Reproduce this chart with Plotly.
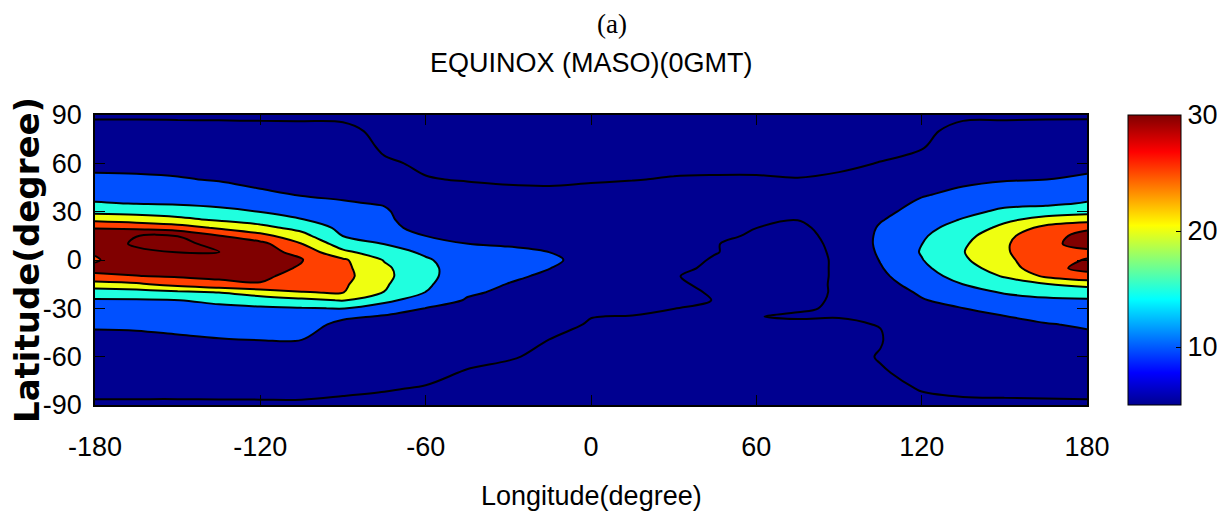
import numpy as np
import plotly.graph_objects as go

# ---------------- data ----------------
LON = [-180, -165, -150, -135, -120, -105, -90, -75, -60, -45, -30, -15, 0,
       15, 30, 45, 60, 75, 90, 105, 120, 135, 150, 165, 180]
LAT = [-90, -80, -70, -60, -50, -40, -35, -30, -25, -20, -15, -10, -5, 0,
       5, 10, 15, 20, 25, 30, 35, 40, 50, 60, 70, 80, 90]

# one latitude profile (south -> north) per longitude
Z_W180 = [4.6, 5.7, 6.8, 7.9, 9.1, 10.4, 11.9, 13.2, 14.5, 17.4, 22.9, 29.4, 30.9, 29.6, 30.4, 31.8, 31.0, 29.9, 23.8, 18.7, 15.4, 13.7, 10.8, 8.9, 7.4, 6.0, 4.6]
Z_W165 = [4.6, 5.7, 6.8, 8.0, 9.2, 10.5, 12.1, 13.3, 14.6, 18.0, 24.2, 29.9, 31.3, 32.6, 33.8, 35.8, 34.9, 28.8, 22.8, 18.2, 14.9, 13.5, 10.6, 8.9, 7.4, 6.0, 4.6]
Z_W150 = [4.6, 5.7, 6.9, 8.2, 9.4, 11.0, 12.5, 13.7, 14.9, 19.0, 26.8, 30.5, 32.0, 33.5, 35.1, 36.5, 34.9, 27.3, 21.3, 17.4, 14.6, 13.1, 10.3, 8.7, 7.3, 5.9, 4.6]
Z_W135 = [4.6, 5.75, 7.1, 8.4, 9.7, 11.8, 12.9, 14.1, 15.9, 20.2, 28.8, 30.9, 32.2, 33.6, 35.1, 33.4, 30.2, 24.3, 19.4, 16.2, 14.0, 12.5, 9.7, 8.4, 7.1, 5.8, 4.6]
Z_W120 = [4.6, 5.8, 7.2, 8.6, 9.95, 12.2, 13.3, 14.4, 17.2, 22.7, 29.6, 31.2, 32.3, 33.0, 32.3, 31.5, 26.6, 21.5, 17.9, 14.9, 13.1, 10.8, 8.9, 8.0, 6.9, 5.7, 4.6]
Z_W105 = [4.6, 5.8, 7.1, 8.5, 9.9, 12.3, 13.5, 14.7, 18.7, 24.9, 26.5, 27.9, 29.4, 30.3, 28.1, 25.1, 21.6, 18.4, 15.2, 13.4, 11.6, 9.95, 8.9, 7.8, 6.7, 5.65, 4.6]
Z_W090 = [4.5, 5.4, 6.4, 7.4, 8.2, 8.6, 11.0, 15.2, 20.3, 25.2, 25.8, 26.5, 26.2, 25.8, 21.0, 17.5, 14.9, 13.75, 12.6, 11.5, 10.3, 9.6, 8.6, 7.6, 6.6, 5.6, 4.5]
Z_W075 = [4.3, 5.15, 6.2, 7.2, 8.3, 9.3, 9.6, 12.6, 16.3, 19.9, 20.6, 21.2, 20.9, 19.7, 17.3, 14.9, 12.5, 10.6, 10.5, 10.4, 9.8, 8.9, 7.15, 5.36, 4.6, 4.4, 4.2]
Z_W060 = [4.2, 4.8, 5.7, 6.8, 7.8, 8.9, 9.4, 9.9, 12.3, 14.95, 15.8, 16.2, 16.1, 15.6, 14.1, 12.0, 9.98, 9.3, 8.6, 7.9, 7.2, 6.5, 5.13, 4.6, 4.4, 4.2, 4.0]
Z_W045 = [4.0, 4.3, 4.8, 5.7, 6.9, 8.0, 8.6, 9.1, 9.7, 10.5, 11.5, 12.4, 12.7, 12.3, 11.3, 10.02, 9.4, 8.7, 8.1, 7.4, 6.8, 6.1, 4.85, 4.5, 4.3, 4.1, 4.0]
Z_W030 = [3.9, 4.2, 4.6, 5.13, 6.2, 7.25, 7.8, 8.3, 8.8, 9.4, 9.9, 10.7, 11.2, 11.1, 10.6, 9.7, 9.0, 8.4, 7.7, 7.1, 6.4, 5.8, 4.6, 4.4, 4.2, 4.0, 3.9]
Z_W015 = [3.8, 4.1, 4.4, 4.7, 4.95, 5.4, 6.1, 6.8, 7.5, 8.1, 8.7, 9.35, 10.05, 10.5, 9.98, 9.4, 8.75, 8.1, 7.5, 6.9, 6.25, 5.6, 4.6, 4.3, 4.1, 3.9, 3.8]
Z_000 = [3.6, 3.8, 4.1, 4.4, 4.65, 4.9, 5.03, 6.0, 7.0, 7.8, 8.4, 8.7, 8.9, 9.0, 8.8, 8.5, 8.2, 7.8, 7.3, 6.8, 6.2, 5.7, 4.8, 4.4, 4.1, 3.9, 3.6]
Z_E015 = [3.5, 3.7, 3.9, 4.1, 4.4, 4.75, 4.93, 5.5, 6.3, 6.9, 7.4, 7.8, 8.0, 8.1, 8.0, 7.8, 7.5, 7.2, 6.9, 6.5, 6.1, 5.7, 4.95, 4.5, 4.2, 3.9, 3.6]
Z_E030 = [3.4, 3.6, 3.8, 4.0, 4.3, 4.6, 4.8, 5.02, 5.3, 5.25, 5.2, 5.1, 5.5, 5.8, 6.1, 6.4, 6.6, 6.7, 6.7, 6.5, 6.2, 5.9, 5.1, 4.6, 4.2, 3.9, 3.6]
Z_E045 = [3.3, 3.5, 3.7, 3.9, 4.1, 4.3, 4.5, 4.6, 4.97, 4.9, 4.7, 4.5, 4.6, 4.8, 5.1, 5.1, 5.5, 6.0, 6.3, 6.4, 6.3, 6.0, 5.15, 4.6, 4.2, 3.9, 3.6]
Z_E060 = [3.3, 3.4, 3.6, 3.8, 4.0, 4.3, 4.95, 4.5, 4.3, 4.1, 4.0, 3.9, 3.9, 4.0, 4.2, 4.3, 4.7, 5.01, 5.4, 5.7, 5.9, 5.8, 5.15, 4.6, 4.2, 3.9, 3.6]
Z_E075 = [3.3, 3.4, 3.6, 3.9, 4.2, 4.6, 5.2, 4.8, 4.5, 4.3, 4.2, 4.1, 4.1, 4.1, 4.2, 4.35, 4.5, 4.7, 5.02, 5.3, 5.5, 5.5, 5.05, 4.6, 4.2, 3.9, 3.6]
Z_E090 = [3.4, 3.6, 3.8, 4.1, 4.4, 4.8, 5.05, 5.2, 5.25, 5.25, 5.3, 5.3, 5.3, 5.3, 5.35, 5.4, 5.5, 5.6, 5.8, 6.0, 6.1, 6.1, 5.25, 4.7, 4.3, 4.0, 3.7]
Z_E105 = [3.8, 4.4, 4.8, 5.15, 4.85, 5.05, 5.6, 6.3, 7.0, 7.7, 8.4, 9.1, 9.7, 10.2, 10.7, 11.0, 10.9, 10.5, 9.7, 8.9, 8.3, 7.8, 6.5, 5.05, 4.6, 4.2, 3.8]
Z_E120 = [4.5, 5.1, 5.6, 6.2, 7.0, 7.8, 8.3, 8.9, 9.7, 10.6, 11.8, 13.0, 14.0, 14.8, 15.3, 14.95, 14.4, 13.6, 12.6, 11.6, 10.7, 9.8, 7.9, 6.2, 4.8, 4.5, 4.0]
Z_E135 = [4.6, 5.4, 6.3, 7.2, 8.15, 9.1, 9.5, 9.95, 11.6, 13.3, 15.03, 16.8, 18.2, 19.3, 19.8, 19.3, 18.3, 16.9, 15.3, 13.8, 12.4, 11.0, 9.2, 8.1, 6.9, 5.7, 4.6]
Z_E150 = [4.6, 5.5, 6.5, 7.5, 8.45, 9.4, 9.9, 11.6, 13.4, 15.35, 17.8, 20.4, 22.2, 23.5, 24.3, 24.3, 23.5, 21.3, 19.0, 15.9, 14.0, 12.4, 9.7, 8.4, 7.1, 5.85, 4.6]
Z_E165 = [4.6, 5.6, 6.6, 7.7, 8.7, 9.8, 10.9, 12.6, 14.2, 16.6, 19.8, 25.8, 28.8, 29.0, 29.2, 29.3, 28.8, 26.5, 21.8, 17.7, 14.05, 13.05, 9.97, 8.65, 7.3, 6.0, 4.6]
Z_E180 = [4.6, 5.7, 6.8, 7.9, 9.05, 10.4, 11.8, 13.1, 14.5, 17.2, 21.6, 28.8, 31.0, 30.15, 29.4, 31.0, 31.0, 29.5, 22.8, 18.7, 15.4, 13.7, 10.6, 8.9, 7.5, 6.1, 4.6]

PROFILES = [Z_W180, Z_W165, Z_W150, Z_W135, Z_W120, Z_W105, Z_W090, Z_W075,
            Z_W060, Z_W045, Z_W030, Z_W015, Z_000, Z_E015, Z_E030, Z_E045,
            Z_E060, Z_E075, Z_E090, Z_E105, Z_E120, Z_E135, Z_E150, Z_E165,
            Z_E180]

LEVEL_START, LEVEL_END, LEVEL_STEP = 5, 35, 5
CBAR_MIN, CBAR_MAX = 5, 30
CBAR_TICKS = [10, 20, 30]
X_TICKS = [-180, -120, -60, 0, 60, 120, 180]
X_TICKTEXT = ["-180", "-120", "-60", "0", "60", "120", "180"]
Y_TICKS = [-90, -60, -30, 0, 30, 60, 90]
Y_TICKTEXT = ["-90", "-60", "-30", "0", "30", "60", "90"]

TITLE_TOP = "(a)"
TITLE = "EQUINOX (MASO)(0GMT)"
X_TITLE = "Longitude(degree)"
Y_TITLE = "Latitude(degree)"

# ---------------- styling ----------------
SANS = "Liberation Sans, Arial, Helvetica, sans-serif"
FS = 27
# fill colour of each band: below 5, 5-10, 10-15, 15-20, 20-25, 25-30, 30-35, above 35
BAND_COLORS = ["#000090", "#000090", "#0050ff", "#20ffdf", "#efff10",
               "#ff4000", "#800000", "#800000"]
nb = len(BAND_COLORS) - 1
band_scale = [[i / nb, c] for i, c in enumerate(BAND_COLORS)]

JET = [[0.0, "#000090"], [0.111, "#0000ff"], [0.365, "#00ffff"],
       [0.619, "#ffff00"], [0.873, "#ff0000"], [1.0, "#800000"]]

# the page body adds an 8 px margin; positions below are page pixels
OFF = 8
FIG_W, FIG_H = 1225 - OFF, 525 - OFF
L, R, T, B = 95, 1087, 115, 405          # plot area on the page
W, H = R - L, B - T


def px_x(p):
    return (p - L) / W


def px_y(p):
    return (B - p) / H


z = np.array(PROFILES).T  # rows = latitude, columns = longitude

fig = go.Figure()
fig.add_trace(go.Contour(
    x=LON, y=LAT, z=z,
    autocontour=False,
    contours=dict(start=LEVEL_START, end=LEVEL_END, size=LEVEL_STEP,
                  coloring="fill", showlines=True),
    colorscale=band_scale,
    line=dict(color="black", width=2, smoothing=1.0),
    showscale=False,
    hoverinfo="skip",
))

# continuous jet colour bar
fig.add_trace(go.Scatter(
    x=[-500, -500], y=[0, 0], mode="markers",
    marker=dict(size=1, color=[CBAR_MIN, CBAR_MAX], colorscale=JET,
                cmin=CBAR_MIN, cmax=CBAR_MAX, showscale=True,
                colorbar=dict(
                    x=px_x(1128), xanchor="left", xpad=0,
                    y=0.5, yanchor="middle", len=1, lenmode="fraction", ypad=0,
                    thickness=53, outlinecolor="black", outlinewidth=1,
                    tickvals=CBAR_TICKS, ticks="inside", ticklen=5,
                    tickcolor="black",
                    tickfont=dict(family=SANS, size=FS, color="black"),
                )),
    hoverinfo="skip", showlegend=False,
))

axis_common = dict(
    showgrid=False, zeroline=False, showline=True, linecolor="black",
    linewidth=1.5, mirror="ticks", ticks="inside", ticklen=10,
    tickcolor="black", tickwidth=1,
    tickfont=dict(family=SANS, size=FS, color="black"),
)

fig.update_layout(
    width=FIG_W, height=FIG_H,
    margin=dict(l=L - OFF, r=FIG_W - (R - OFF), t=T - OFF,
                b=FIG_H - (B - OFF), autoexpand=False),
    paper_bgcolor="white", plot_bgcolor="white",
    showlegend=False, hovermode=False,
    xaxis=dict(range=[-180, 180], tickvals=X_TICKS, ticktext=X_TICKTEXT,
               ticklabelstandoff=17, **axis_common),
    yaxis=dict(range=[-90, 90], tickvals=Y_TICKS, ticktext=Y_TICKTEXT,
               ticklabelstandoff=6, **axis_common),
    annotations=[
        dict(text=TITLE_TOP, xref="paper", yref="paper",
             x=px_x(612), y=px_y(24),
             xanchor="center", yanchor="middle", showarrow=False,
             font=dict(family="Liberation Serif, DejaVu Serif, serif", size=27,
                       color="black")),
        dict(text=TITLE, xref="paper", yref="paper",
             x=0.5, y=px_y(63),
             xanchor="center", yanchor="middle", showarrow=False,
             font=dict(family=SANS, size=FS, color="black")),
        dict(text=X_TITLE, xref="paper", yref="paper",
             x=0.5, y=px_y(496),
             xanchor="center", yanchor="middle", showarrow=False,
             font=dict(family=SANS, size=FS, color="black")),
        dict(text="<b>" + Y_TITLE + "</b>", xref="paper", yref="paper",
             x=px_x(27), y=0.5, textangle=-90,
             xanchor="center", yanchor="middle", showarrow=False,
             font=dict(family="DejaVu Sans, Liberation Sans, sans-serif",
                       size=34, color="black")),
    ],
)

fig.write_html("out.html")
